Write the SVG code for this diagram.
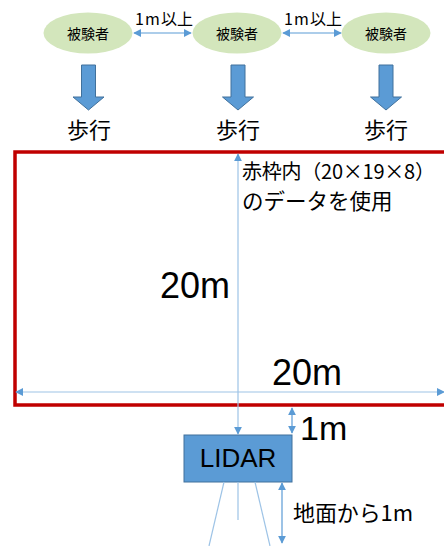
<svg xmlns="http://www.w3.org/2000/svg" width="444" height="546" viewBox="0 0 444 546">
<defs>
<style>
.jp{font-family:"Noto Sans CJK JP","Noto Sans",sans-serif;fill:#000}
.lat{font-family:"Liberation Sans",Arial,sans-serif;fill:#000}
.ell{fill:#D3E6BC}
.blk{fill:#5B9BD5;stroke:#41719C;stroke-width:1}
.dim{stroke:#9DC3E6;stroke-width:1.2;fill:none}
.dim2{stroke:#5B9BD5;stroke-width:1.2;fill:none}
</style>
<marker id="ah" viewBox="0 0 10 10" refX="9" refY="5" markerWidth="8" markerHeight="8" markerUnits="userSpaceOnUse" orient="auto-start-reverse">
<path d="M0,0 L10,5 L0,10 z" fill="#5B9BD5"/>
</marker>
<path id="barrow" d="M-7,0 H7 V32 H15.5 L0,45 L-15.5,32 H-7 Z"/>
</defs>
<rect width="444" height="546" fill="#fff"/>

<g id="subject1"><ellipse class="ell" cx="88" cy="33" rx="44.5" ry="20.5"/><text class="jp" x="88" y="39" font-size="14" text-anchor="middle">被験者</text></g>
<g id="subject2"><ellipse class="ell" cx="237" cy="33" rx="44.5" ry="20.5"/><text class="jp" x="237" y="39" font-size="14" text-anchor="middle">被験者</text></g>
<g id="subject3"><ellipse class="ell" cx="386" cy="33" rx="44.5" ry="20.5"/><text class="jp" x="386" y="39" font-size="14" text-anchor="middle">被験者</text></g>

<g id="walk1"><use href="#barrow" class="blk" x="88.5" y="65"/><text class="jp" x="89" y="138" font-size="22" text-anchor="middle">歩行</text></g>
<g id="walk2"><use href="#barrow" class="blk" x="238" y="65"/><text class="jp" x="238" y="138" font-size="22" text-anchor="middle">歩行</text></g>
<g id="walk3"><use href="#barrow" class="blk" x="386" y="65"/><text class="jp" x="386" y="138" font-size="22" text-anchor="middle">歩行</text></g>

<g id="area">
<rect x="15" y="152" width="440" height="253" fill="none" stroke="#C00000" stroke-width="3.5"/>
<text class="jp" x="242" y="179" font-size="20" textLength="193" lengthAdjust="spacing">赤枠内（20×19×8）</text>
<text class="jp" x="242" y="209" font-size="21.5">のデータを使用</text>
<text class="lat" x="230" y="298" font-size="36" text-anchor="end">20m</text>
<text class="lat" x="307" y="385" font-size="36" text-anchor="middle">20m</text>
</g>

<g id="lidar">
<rect x="184" y="435" width="108" height="47" fill="#5B9BD5" stroke="#41719C" stroke-width="1"/>
<text class="lat" x="238" y="467" font-size="26" text-anchor="middle">LIDAR</text>
</g>

<g id="connectors">
<line class="dim2" x1="134" y1="33" x2="191" y2="33" marker-start="url(#ah)" marker-end="url(#ah)"/>
<line class="dim2" x1="283" y1="33" x2="341" y2="33" marker-start="url(#ah)" marker-end="url(#ah)"/>
<line class="dim" x1="238" y1="154" x2="238" y2="434" marker-start="url(#ah)" marker-end="url(#ah)"/>
<line class="dim" x1="16" y1="392" x2="444" y2="392" marker-start="url(#ah)" marker-end="url(#ah)"/>
<line class="dim2" x1="292" y1="408" x2="292" y2="433" marker-start="url(#ah)" marker-end="url(#ah)"/>
<line class="dim2" x1="282" y1="483" x2="282" y2="543" marker-start="url(#ah)" marker-end="url(#ah)"/>
<line class="dim" x1="238" y1="482" x2="238" y2="520"/>
<line class="dim" x1="224" y1="482" x2="209" y2="546"/>
<line class="dim" x1="255" y1="482" x2="270" y2="546"/>
</g>

<g id="labels">
<text class="jp" x="135" y="25" font-size="16">1<tspan x="145">m</tspan><tspan x="161">以上</tspan></text>
<text class="jp" x="284" y="25" font-size="16">1<tspan x="294">m</tspan><tspan x="310">以上</tspan></text>
<text class="lat" x="300" y="440" font-size="34">1m</text>
<text class="jp" x="293" y="521" font-size="22" textLength="120" lengthAdjust="spacing">地面から1m</text>
</g>
</svg>
